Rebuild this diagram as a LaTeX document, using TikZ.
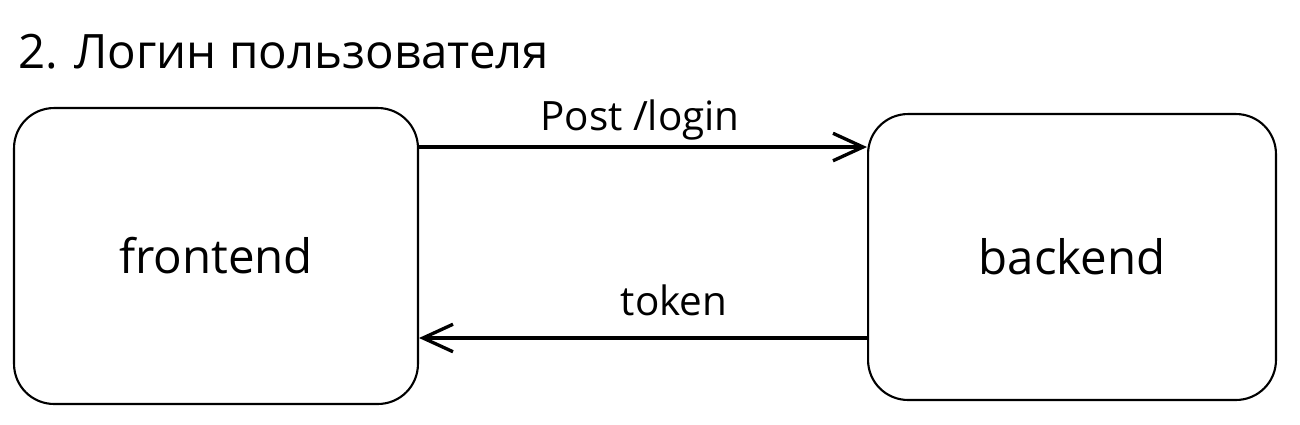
\documentclass[tikz,border=0pt]{standalone}
\usepackage{fontspec}
\setmainfont{Open Sans}
\usepackage{tikz}
\usetikzlibrary{arrows.meta}

\begin{document}
\begin{tikzpicture}[x=0.02cm,y=-0.02cm,
  box/.style={draw, rectangle, rounded corners=0.8cm, line width=1.2pt, font=\fontsize{27}{32}\selectfont},
  flow/.style={->,>={Straight Barb[length=0.6cm,width=0.55cm]},line width=1.9pt},
  lbl/.style={anchor=base, inner sep=0, font=\fontsize{23}{28}\selectfont}]
\useasboundingbox (0,0) rectangle (1300,424);
\node[anchor=base west, inner sep=0, font=\fontsize{27}{32}\selectfont] (title) at (18,68) {2. Логин пользователя};
\node[box, minimum width=8.08cm, minimum height=5.92cm] (frontend) at (216,256) {frontend};
\node[box, minimum width=8.16cm, minimum height=5.72cm] (backend) at (1072,257) {backend};
\node[lbl] (post) at (640,130) {Post /login};
\node[lbl] (token) at (674,315) {token};
\draw [flow] ([yshift=2.18cm]frontend.east) -- ([yshift=2.2cm]backend.west);
\draw [flow] ([yshift=-1.62cm]backend.west) -- ([yshift=-1.64cm]frontend.east);
\end{tikzpicture}
\end{document}
